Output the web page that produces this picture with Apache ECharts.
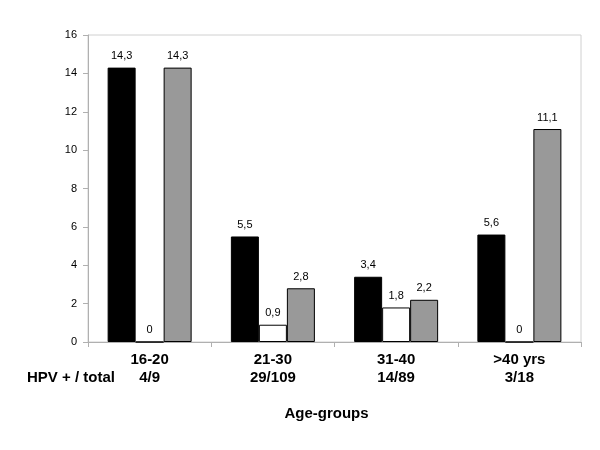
<!DOCTYPE html>
<html>
<head>
<meta charset="utf-8">
<script src="https://cdn.jsdelivr.net/npm/echarts@6/dist/echarts.min.js"></script>
<style>html,body{margin:0;padding:0;background:#fff}#c{width:600px;height:450px}</style>
</head>
<body>
<div id="c"></div>
<script>
const categories = ['16-20', '21-30', '31-40', '>40 yrs'];
const ratios = ['4/9', '29/109', '14/89', '3/18'];
const seriesBlack = [14.3, 5.5, 3.4, 5.6];
const seriesWhite = [0, 0.9, 1.8, 0];
const seriesGray = [14.3, 2.8, 2.2, 11.1];
const yTicks = [0, 2, 4, 6, 8, 10, 12, 14, 16];

const chart = echarts.init(document.getElementById('c'));
const fmt = v => String(v.value).replace('.', ',');
const lbl = {show: true, position: 'top', distance: 6, color: '#000', fontSize: 11, fontFamily: 'Arial, Liberation Sans', formatter: fmt};
function mk(name, data, color) {
  return {
    name, type: 'bar', data, barWidth: 28, barGap: '0%',
    itemStyle: {color, borderColor: '#000', borderWidth: 1},
    label: lbl
  };
}
chart.setOption({
  animation: false,
  grid: {left: 88, right: 19, top: 35, bottom: 108, show: true, borderColor: '#d0d0d0', borderWidth: 1},
  xAxis: {
    type: 'category', data: categories,
    axisLine: {lineStyle: {color: '#b0b0b0'}},
    axisTick: {show: true, length: 5, lineStyle: {color: '#b0b0b0'}},
    axisLabel: {
      interval: 0, margin: 9, color: '#000', fontSize: 15, fontWeight: 'bold',
      fontFamily: 'Arial, Liberation Sans', lineHeight: 18,
      formatter: (v, i) => v + '\n' + ratios[i]
    },
    name: 'Age-groups', nameLocation: 'middle', nameGap: 64,
    nameTextStyle: {color: '#000', fontSize: 15, fontWeight: 'bold', fontFamily: 'Arial, Liberation Sans', padding: [0, 16, 0, 0]}
  },
  yAxis: {
    type: 'value', min: yTicks[0], max: yTicks[yTicks.length - 1], interval: 2,
    splitLine: {show: false},
    axisLine: {show: true, lineStyle: {color: '#b0b0b0'}},
    axisTick: {show: true, length: 5, lineStyle: {color: '#b0b0b0'}},
    axisLabel: {color: '#000', fontSize: 11, fontFamily: 'Arial, Liberation Sans', margin: 11}
  },
  graphic: [{
    type: 'text', left: 27, top: 370,
    style: {text: 'HPV + / total', fill: '#000', font: 'bold 15px Arial, "Liberation Sans"'}
  }],
  series: [
    mk('A', seriesBlack, '#000000'),
    mk('B', seriesWhite, '#ffffff'),
    mk('C', seriesGray, '#999999')
  ]
});
</script>
</body>
</html>
